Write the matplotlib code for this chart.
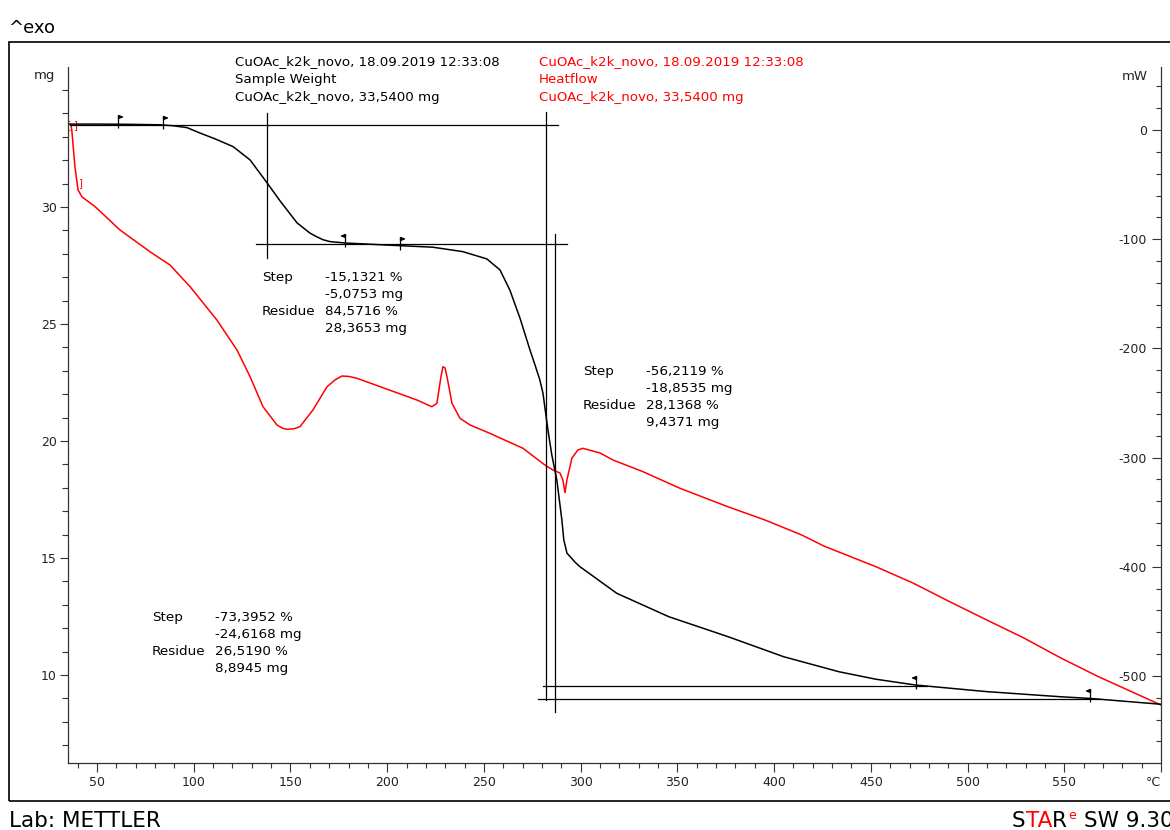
import matplotlib
matplotlib.use("Agg")
import matplotlib.pyplot as plt
import numpy as np
from matplotlib.path import Path
from matplotlib.patches import Rectangle

plt.rcParams['font.family'] = ['DejaVu Sans']
plt.rcParams['axes.unicode_minus'] = False

# TGA: sample weight (mg) vs temperature (°C)
temp_mass = [35.0, 51.6, 67.1, 82.6, 89.3, 96.5, 103.2, 111.0, 120.3, 129.1, 137.9, 144.6,
             153.4, 160.1, 163.7, 166.8, 170.4, 178.2, 197.8, 223.6, 239.1, 251.5, 258.3,
             263.4, 268.6, 273.8, 276.4, 278.9, 280.5, 283.1, 285.1, 287.7, 290.3, 291.3,
             292.9, 297.0, 299.6, 318.7, 345.6, 376.1, 405.0, 433.5, 452.6, 473.3, 509.9,
             548.2, 563.2, 600.0]
mass = [33.54, 33.54, 33.53, 33.51, 33.47, 33.39, 33.16, 32.91, 32.58, 32.01, 31.03, 30.26,
        29.32, 28.88, 28.72, 28.60, 28.52, 28.46, 28.38, 28.28, 28.09, 27.78, 27.31,
        26.45, 25.26, 23.89, 23.25, 22.61, 22.05, 20.47, 19.40, 18.33, 16.62, 15.77,
        15.21, 14.83, 14.63, 13.49, 12.49, 11.64, 10.78, 10.14, 9.82, 9.57, 9.29,
        9.07, 9.00, 8.75]

# DSC: heat flow (mW) vs temperature (°C)
temp_hf = [36.6, 37.1, 38.6, 40.2, 42.3, 49.0, 61.9, 77.4, 87.7, 98.1, 112.0, 122.4, 129.1,
           135.8, 143.0, 146.1, 148.7, 151.8, 154.9, 161.6, 168.9, 173.0, 176.6, 180.2,
           184.4, 197.8, 215.4, 223.1, 225.7, 227.8, 228.8, 229.9, 230.9, 233.5, 237.6,
           242.8, 253.1, 270.2, 281.5, 285.7, 289.3, 290.8, 291.9, 292.9, 295.5, 298.6,
           301.2, 310.0, 316.7, 332.2, 351.3, 376.1, 395.2, 414.3, 425.7, 452.6, 471.7,
           490.8, 509.9, 529.1, 548.2, 567.6, 600.0]
heatflow = [4.6, -2.8, -33.9, -55.0, -61.4, -70.2, -91.6, -111.5, -123.6, -143.5, -174.1,
            -201.6, -225.9, -253.4, -270.1, -273.3, -274.1, -273.6, -271.7, -256.4, -235.1,
            -228.9, -225.3, -225.7, -227.4, -236.0, -247.3, -253.4, -250.3, -225.9, -216.8,
            -217.9, -225.9, -250.3, -264.0, -270.1, -277.8, -291.5, -306.8, -311.4, -314.1,
            -320.5, -332.1, -320.5, -300.4, -293.0, -291.5, -295.8, -302.2, -312.9, -328.1,
            -345.0, -357.1, -370.9, -381.0, -399.9, -414.8, -432.0, -448.7, -465.2, -483.5,
            -500.6, -526.6]

# step evaluation: level lines (mg) and limit lines (°C)
hline_levels = [33.52, 28.41, 9.53, 8.98]
hline_from = [36.0, 132.2, 280.5, 277.9]
hline_to = [288.2, 292.9, 478.9, 568.3]
vline_temps = [137.9, 282.0, 286.7]
vline_low = [27.82, 8.95, 8.42]
vline_high = [34.02, 34.06, 28.85]
flag_temps = [61.0, 84.0, 178.2, 206.6, 473.3, 563.2]
flag_dirs = [1, 1, -1, 1, -1, -1]

header_black = ["CuOAc_k2k_novo, 18.09.2019 12:33:08", "Sample Weight",
                "CuOAc_k2k_novo, 33,5400 mg"]
header_red = ["CuOAc_k2k_novo, 18.09.2019 12:33:08", "Heatflow",
              "CuOAc_k2k_novo, 33,5400 mg"]
step_blocks = [
    (262, 325, 281, ["Step", "", "Residue", ""],
     ["-15,1321 %", "-5,0753 mg", "84,5716 %", "28,3653 mg"]),
    (583, 646, 375, ["Step", "", "Residue", ""],
     ["-56,2119 %", "-18,8535 mg", "28,1368 %", "9,4371 mg"]),
    (152, 215, 621, ["Step", "", "Residue", ""],
     ["-73,3952 %", "-24,6168 mg", "26,5190 %", "8,8945 mg"]),
]

W, H = 1170, 830
RED = '#ff0000'
GREY = '#333333'


def fx(px):
    return px / W


def fy(py):
    return 1 - py / H


fig = plt.figure(figsize=(W / 100, H / 100), dpi=100)
ax = fig.add_axes([fx(68), fy(763), fx(1161) - fx(68), fy(67) - fy(763)])
ax2 = ax.twinx()
ax.set_zorder(ax2.get_zorder() + 1)
ax.patch.set_visible(False)

ax2.plot(temp_hf, heatflow, color=RED, lw=1.1)
ax.plot(temp_mass, mass, color='black', lw=1.1)

for lev, a, b in zip(hline_levels, hline_from, hline_to):
    ax.plot([a, b], [lev, lev], color='black', lw=0.9)
for t, lo, hi in zip(vline_temps, vline_low, vline_high):
    ax.plot([t, t], [lo, hi], color='black', lw=0.9)

flag_y = np.interp(flag_temps, temp_mass, mass)
for t, yv, d in zip(flag_temps, flag_y, flag_dirs):
    verts = [(0, -4), (0, 9), (0, 9), (4 * d, 7.5), (0, 6), (0, 9)]
    codes = [Path.MOVETO, Path.LINETO, Path.MOVETO, Path.LINETO, Path.LINETO, Path.CLOSEPOLY]
    ax.plot([t], [yv], marker=Path(verts, codes), ms=13, mfc='black', mec='black',
            mew=0.9, ls='none')

# red evaluation brackets at the start of the heat flow curve
ax2.text(temp_hf[0], heatflow[0], '[', color=RED, fontsize=8, ha='right', va='center')
ax2.text(temp_hf[0] + 1.2, heatflow[0], ']', color=RED, fontsize=7, ha='left', va='center')
ax2.text(temp_hf[3], heatflow[3] + 6, ']', color=RED, fontsize=7, ha='left', va='center')

ax.set_xlim(35, 600)
ax.set_xticks(range(50, 601, 50))
ax.set_xticklabels([str(v) for v in range(50, 551, 50)] + ['°C'])
ax.set_xticks(range(40, 600, 10), minor=True)
ax.set_ylim(6.24, 35.98)
ax.set_yticks([10, 15, 20, 25, 30])
ax.set_yticks(range(7, 36), minor=True)
ax2.set_ylim(-579.7, 57.7)
ax2.set_yticks(range(-500, 1, 100))
ax2.set_yticks(range(-560, 57, 20), minor=True)

for sp in ['top', 'right']:
    ax.spines[sp].set_visible(False)
for sp in ['top', 'left', 'bottom']:
    ax2.spines[sp].set_visible(False)
for a in (ax, ax2):
    for sp in a.spines.values():
        sp.set_color(GREY)
        sp.set_linewidth(0.9)

ax.tick_params(axis='x', which='major', direction='out', length=6.5, width=0.8,
               color=GREY, labelcolor='#222222', labelsize=9, pad=3)
ax.tick_params(axis='x', which='minor', direction='out', length=3.6, width=0.8, color=GREY)
ax.tick_params(axis='y', which='major', direction='out', length=5.5, width=0.8,
               color=GREY, labelcolor='#222222', labelsize=9, pad=2.5)
ax.tick_params(axis='y', which='minor', direction='out', length=4.5, width=0.8, color=GREY)
ax2.tick_params(axis='y', which='major', direction='in', length=6.5, width=0.8,
                color=GREY, labelcolor='#222222', labelsize=9, pad=-10)
ax2.tick_params(axis='y', which='minor', direction='in', length=3.6, width=0.8, color=GREY)
for lab in ax2.get_yticklabels():
    lab.set_horizontalalignment('right')
for lab in ax.get_xticklabels():
    if lab.get_text() == '°C':
        lab.set_horizontalalignment('right')

fig.add_artist(Rectangle((fx(8.5), fy(800.5)), 1.05, fy(42) - fy(800.5), fill=False,
                         lw=1.2, edgecolor='black', transform=fig.transFigure))

fig.text(fx(8), fy(33), '^exo', fontsize=13, va='baseline')
fig.text(fx(55), fy(76), 'mg', fontsize=9.5, ha='right', va='center', color='#222222')
fig.text(fx(1148), fy(76), 'mW', fontsize=9.5, ha='right', va='center', color='#222222')

for i, s in enumerate(header_black):
    fig.text(fx(235), fy(65.5 + 17.5 * i), s, fontsize=9.6, va='baseline')
for i, s in enumerate(header_red):
    fig.text(fx(539), fy(65.5 + 17.5 * i), s, fontsize=9.6, va='baseline', color=RED)

for xl, xv, y0, labels, values in step_blocks:
    for i, (lab, val) in enumerate(zip(labels, values)):
        yy = fy(y0 + 17 * i)
        if lab:
            fig.text(fx(xl), yy, lab, fontsize=9.7, va='baseline')
        fig.text(fx(xv), yy, val, fontsize=9.7, va='baseline')

fig.text(fx(9), fy(827), 'Lab: METTLER', fontsize=15.5, va='baseline')

fig.canvas.draw()
renderer = fig.canvas.get_renderer()
xpos = 1012
for s, col, size, dy, gap in [('S', 'black', 15.5, 0, 0), ('TA', RED, 15.5, 0, 0),
                              ('R', 'black', 15.5, 0, 1), ('e', RED, 9, 8, 8),
                              ('SW 9.30', 'black', 15.5, 0, 0)]:
    t = fig.text(fx(xpos), fy(827 - dy), s, fontsize=size, va='baseline', color=col)
    xpos += t.get_window_extent(renderer).width + gap

fig.savefig('out.png', dpi=100)
